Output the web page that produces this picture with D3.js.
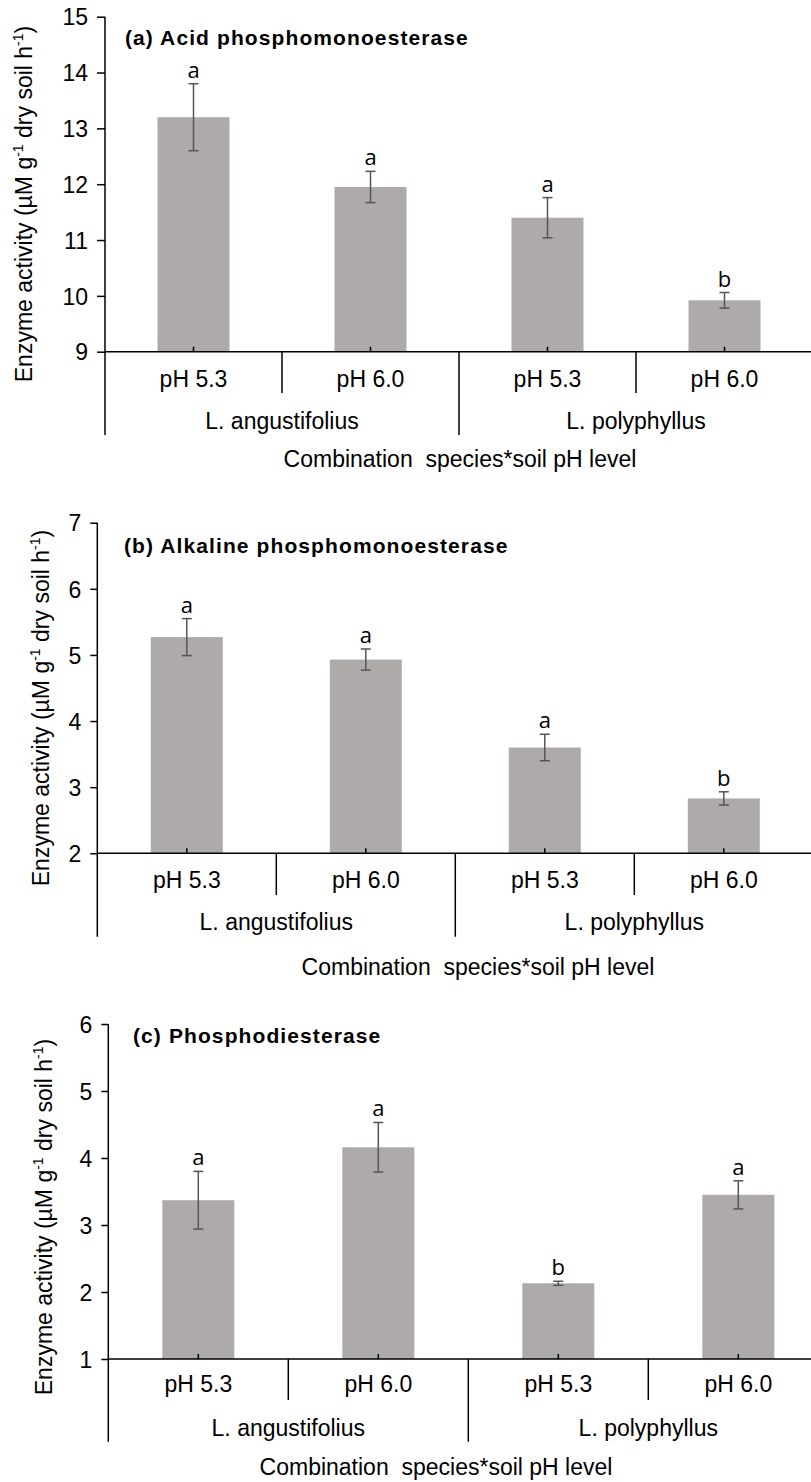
<!DOCTYPE html>
<html>
<head>
<meta charset="utf-8">
<script src="https://cdn.jsdelivr.net/npm/d3@7"></script>
<style>
  html, body { margin: 0; padding: 0; background: #fff; }
  svg { display: block; }
  .txt { font-family: "Liberation Sans", Arial, sans-serif; fill: #000; }
  .sig { font-family: "Open Sans", "Noto Sans", sans-serif; fill: #000; }
</style>
</head>
<body>
<svg id="fig" width="811" height="1482"></svg>
<script>
// Treatment combinations (species x soil pH)
const categories = ["pH 5.3", "pH 6.0", "pH 5.3", "pH 6.0"];
const species = ["L. angustifolius", "L. polyphyllus"];

// (a) Acid phosphomonoesterase
const acidMean = [13.2, 11.95, 11.4, 9.92];
const acidErr = [0.6, 0.28, 0.36, 0.14];
const acidLetters = ["a", "a", "a", "b"];
const acidTicks = [9, 10, 11, 12, 13, 14, 15];

// (b) Alkaline phosphomonoesterase
const alkMean = [5.27, 4.93, 3.6, 2.83];
const alkErr = [0.28, 0.16, 0.2, 0.1];
const alkLetters = ["a", "a", "a", "b"];
const alkTicks = [2, 3, 4, 5, 6, 7];

// (c) Phosphodiesterase
const phosMean = [3.37, 4.16, 2.13, 3.45];
const phosErr = [0.43, 0.37, 0.03, 0.21];
const phosLetters = ["a", "a", "b", "a"];
const phosTicks = [1, 2, 3, 4, 5, 6];

const titles = ["(a) Acid phosphomonoesterase", "(b) Alkaline phosphomonoesterase", "(c) Phosphodiesterase"];
const xTitle = "Combination  species*soil pH level";

// Panel geometry (pixels)
const panels = [
  { mean: acidMean, err: acidErr, letters: acidLetters, ticks: acidTicks, title: titles[0],
    x0: 105, band: 177, yTop: 16.7, yBot: 351.7, sepShort: 393, sepLong: 435,
    catY: 387, spY: 429, xtY: 467, xtX: 460, titleX: 125, titleY: 45, ylX: 32, ylY: 204, tickLen: 8 },
  { mean: alkMean, err: alkErr, letters: alkLetters, ticks: alkTicks, title: titles[1],
    x0: 97.3, band: 179, yTop: 522.7, yBot: 853.3, sepShort: 895, sepLong: 936.7,
    catY: 888, spY: 930, xtY: 975, xtX: 478, titleX: 124, titleY: 553, ylX: 49, ylY: 708, tickLen: 7 },
  { mean: phosMean, err: phosErr, letters: phosLetters, ticks: phosTicks, title: titles[2],
    x0: 108.3, band: 180, yTop: 1024, yBot: 1359, sepShort: 1400, sepLong: 1441.7,
    catY: 1392, spY: 1436, xtY: 1475, xtX: 436, titleX: 133, titleY: 1043, ylX: 52, ylY: 1217, tickLen: 7 }
];

const svg = d3.select("#fig");
const barFill = "#aeaaa9";
const errColor = "#555555";
const FS = 23;

panels.forEach(p => {
  const g = svg.append("g");
  const idx = d3.range(categories.length);
  const x = d3.scaleBand().domain(idx).range([p.x0, p.x0 + p.band * categories.length]).paddingInner(0).paddingOuter(0);
  const y = d3.scaleLinear().domain(d3.extent(p.ticks)).range([p.yBot, p.yTop]);
  const barW = 72;
  const cx = i => x(i) + x.bandwidth() / 2;

  // bars
  g.selectAll("rect.bar").data(p.mean).join("rect")
    .attr("x", (d, i) => cx(i) - barW / 2)
    .attr("y", d => y(d))
    .attr("width", barW)
    .attr("height", d => y(p.ticks[0]) - y(d))
    .attr("fill", barFill);

  // error bars
  const eb = g.selectAll("g.eb").data(p.mean).join("g").attr("stroke", errColor).attr("stroke-width", 1.5);
  eb.append("line").attr("x1", (d, i) => cx(i)).attr("x2", (d, i) => cx(i))
    .attr("y1", (d, i) => y(d + p.err[i])).attr("y2", (d, i) => y(d - p.err[i]));
  eb.append("line").attr("x1", (d, i) => cx(i) - 5).attr("x2", (d, i) => cx(i) + 5)
    .attr("y1", (d, i) => y(d + p.err[i])).attr("y2", (d, i) => y(d + p.err[i]));
  eb.append("line").attr("x1", (d, i) => cx(i) - 5).attr("x2", (d, i) => cx(i) + 5)
    .attr("y1", (d, i) => y(d - p.err[i])).attr("y2", (d, i) => y(d - p.err[i]));

  // significance letters
  g.selectAll("text.sig").data(p.letters).join("text")
    .attr("class", "sig")
    .attr("x", (d, i) => cx(i))
    .attr("y", (d, i) => y(p.mean[i] + p.err[i]) - 6)
    .attr("text-anchor", "middle")
    .attr("font-size", 22)
    .text(d => d);

  // y axis
  const yAxis = d3.axisLeft(y).tickValues(p.ticks).tickSize(p.tickLen).tickPadding(9).tickFormat(d3.format("d"));
  const ya = g.append("g").attr("transform", `translate(${p.x0},0)`).call(yAxis);
  ya.select(".domain").remove();
  ya.selectAll(".tick line").attr("stroke", "#000").attr("stroke-width", 1.5);
  ya.selectAll(".tick text").attr("class", "txt").attr("font-size", FS).attr("font-family", null).attr("fill", "#000").attr("dy", "0.36em");
  g.append("line").attr("x1", p.x0).attr("x2", p.x0).attr("y1", p.yTop).attr("y2", p.sepLong)
    .attr("stroke", "#000").attr("stroke-width", 1.5);

  // x axis line with inner ticks at bar centres
  const xEnd = p.x0 + p.band * categories.length;
  g.append("line").attr("x1", p.x0).attr("x2", xEnd).attr("y1", y(p.ticks[0])).attr("y2", y(p.ticks[0]))
    .attr("stroke", "#000").attr("stroke-width", 1.5);
  g.selectAll("line.ctick").data(idx).join("line")
    .attr("x1", i => cx(i)).attr("x2", i => cx(i))
    .attr("y1", y(p.ticks[0]) - 5).attr("y2", y(p.ticks[0]))
    .attr("stroke", "#000").attr("stroke-width", 1.5);

  // group separators
  [1, 2, 3].forEach(k => {
    g.append("line").attr("x1", x(k)).attr("x2", x(k))
      .attr("y1", y(p.ticks[0])).attr("y2", k === 2 ? p.sepLong : p.sepShort)
      .attr("stroke", "#000").attr("stroke-width", 1.5);
  });

  // category labels
  g.selectAll("text.cat").data(categories).join("text")
    .attr("class", "txt")
    .attr("x", (d, i) => cx(i)).attr("y", p.catY)
    .attr("text-anchor", "middle").attr("font-size", FS)
    .text(d => d);

  // species labels
  g.selectAll("text.sp").data(species).join("text")
    .attr("class", "txt")
    .attr("x", (d, i) => x(i * 2) + x.bandwidth()).attr("y", p.spY)
    .attr("text-anchor", "middle").attr("font-size", FS)
    .text(d => d);

  // x-axis title
  g.append("text").attr("class", "txt")
    .attr("x", p.xtX).attr("y", p.xtY).attr("text-anchor", "middle").attr("font-size", FS)
    .attr("xml:space", "preserve")
    .text(xTitle);

  // panel title
  g.append("text").attr("class", "txt")
    .attr("x", p.titleX).attr("y", p.titleY)
    .attr("font-size", 21).attr("font-weight", "bold").attr("letter-spacing", 1.1)
    .text(p.title);

  // y-axis title with superscripts
  const yl = g.append("text").attr("class", "txt")
    .attr("transform", `translate(${p.ylX},${p.ylY}) rotate(-90)`)
    .attr("text-anchor", "middle").attr("font-size", FS);
  yl.append("tspan").text("Enzyme activity (µM g");
  yl.append("tspan").attr("font-size", 14).attr("dy", -9).text("-1");
  yl.append("tspan").attr("dy", 9).text(" dry soil h");
  yl.append("tspan").attr("font-size", 14).attr("dy", -9).text("-1");
  yl.append("tspan").attr("dy", 9).text(")");
});
</script>
</body>
</html>
